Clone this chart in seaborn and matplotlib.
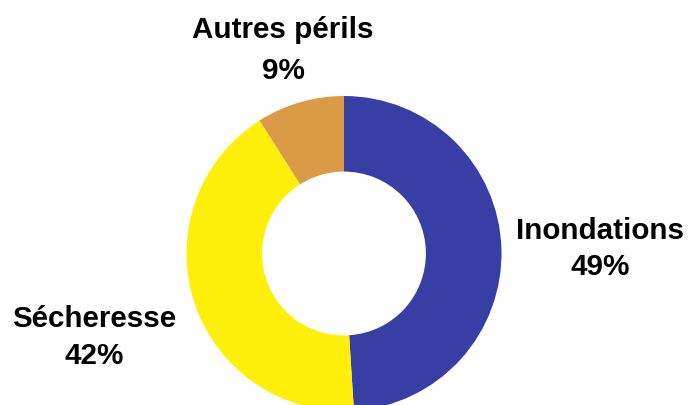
import matplotlib
matplotlib.use("Agg")
import matplotlib.pyplot as plt
import seaborn as sns

categories = ["Inondations", "Sécheresse", "Autres périls"]
values = [49, 42, 9]
colors = ["#373FA5", "#FFF00C", "#DB9A45"]

sns.set_theme(style="white")
plt.rcParams['font.family'] = ['Liberation Sans', 'DejaVu Sans']

W, H = 688, 406
fig = plt.figure(figsize=(W / 100, H / 100), dpi=100)
ax = fig.add_axes([0, 0, 1, 1])

cx, cy, R = 344, H - 254.5, 157.5
ax.pie(values, colors=colors, startangle=90, counterclock=False,
       center=(cx, cy), radius=R, frame=True,
       wedgeprops=dict(width=R * 0.48, linewidth=0))
ax.set_xlim(0, W)
ax.set_ylim(0, H)
ax.set_aspect('equal')
ax.axis('off')

# label positions (pixels from top)
label_pos = {
    "Inondations": (600, 239, 275),
    "Sécheresse": (94, 327, 364),
    "Autres périls": (283, 38, 79),
}
for cat, val in zip(categories, values):
    x, y1, y2 = label_pos[cat]
    ax.text(x, H - y1, cat, ha='center', va='baseline', fontsize=21.3,
            fontweight='bold', color='#000000')
    ax.text(x, H - y2, f"{val}%", ha='center', va='baseline', fontsize=21.3,
            fontweight='bold', color='#000000')

fig.savefig("out.png", dpi=100)
